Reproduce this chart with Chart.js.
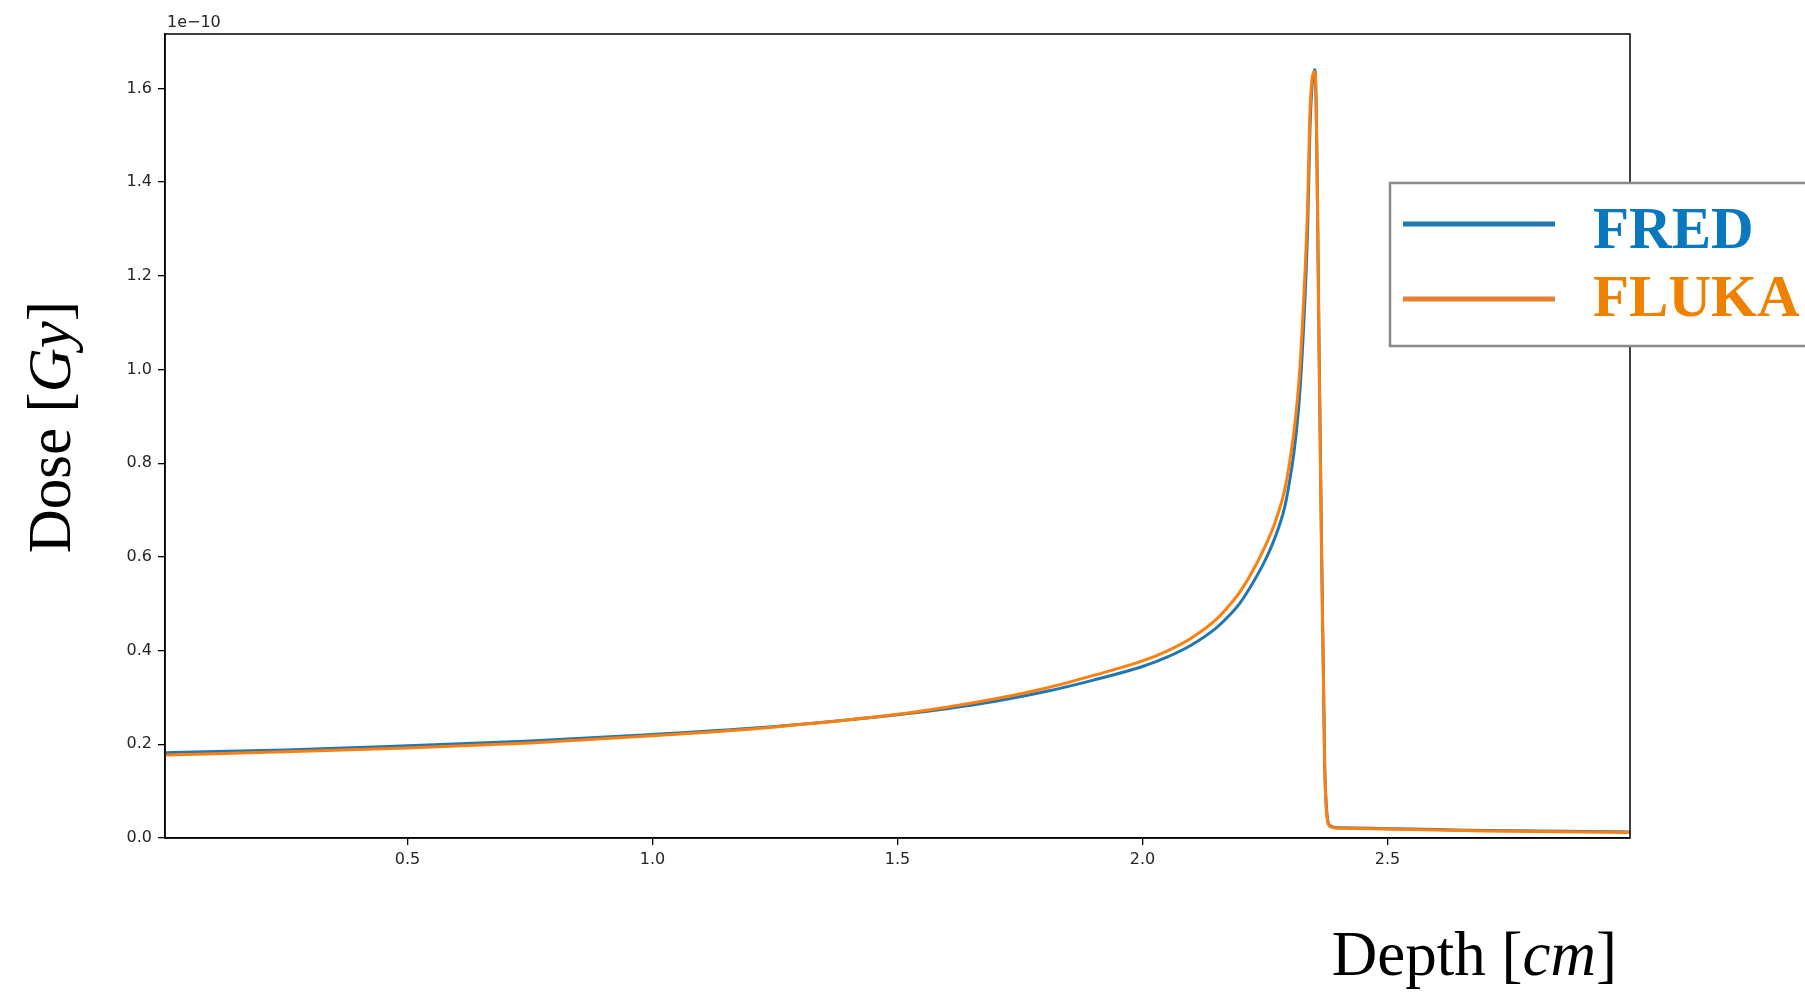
<!DOCTYPE html>
<html>
<head>
<meta charset="utf-8">
<title>Dose vs Depth</title>
<script src="https://cdn.jsdelivr.net/npm/chart.js@4.4.1/dist/chart.umd.min.js"></script>
<style>
    html, body { margin: 0; padding: 0; background: #fff; }
    #wrap { width: 1805px; height: 995px; position: relative; overflow: hidden; }
</style>
</head>
<body>
<div id="wrap">
    <canvas id="doseChart" width="1805" height="995"></canvas>
</div>
<script>
// depth in cm, dose in units of 1e-10 Gy
const depth = [0.005, 0.25, 0.5, 0.75, 1.0, 1.25, 1.5, 1.6, 1.7, 1.8, 1.9, 2.0, 2.05, 2.1, 2.15, 2.18, 2.2,
    2.226, 2.25, 2.27, 2.29, 2.3, 2.31, 2.32, 2.33, 2.337, 2.342, 2.352, 2.362, 2.372, 2.382, 2.4, 2.5, 2.6, 2.7, 2.8, 2.9, 2.995];

const fred = [0.182, 0.188, 0.197, 0.207, 0.221, 0.238, 0.263, 0.276, 0.292, 0.312, 0.337, 0.366, 0.386, 0.412, 0.448, 0.478, 0.503,
    0.546, 0.592, 0.640, 0.705, 0.760, 0.830, 0.935, 1.115, 1.300, 1.520, 1.640, 0.920, 0.150, 0.027, 0.022, 0.020, 0.018, 0.016, 0.015, 0.014, 0.013];

const fluka = [0.177, 0.184, 0.192, 0.203, 0.218, 0.237, 0.264, 0.279, 0.297, 0.319, 0.347, 0.378, 0.399, 0.427, 0.466, 0.500, 0.527,
    0.572, 0.622, 0.672, 0.742, 0.800, 0.875, 0.985, 1.170, 1.347, 1.554, 1.636, 0.900, 0.140, 0.025, 0.021, 0.019, 0.017, 0.015, 0.014, 0.013, 0.012];

const xTicks = [0.5, 1.0, 1.5, 2.0, 2.5];
const yTicks = [0.0, 0.2, 0.4, 0.6, 0.8, 1.0, 1.2, 1.4, 1.6];
const seriesNames = ['FRED', 'FLUKA'];
const offsetLabel = '1e\u221210';

const blue = '#1f77b4';
const orange = '#ff7f0e';

function toPoints(ys) {
    return depth.map((d, i) => ({ x: d, y: ys[i] }));
}

// frame, offset label, axis titles and the legend box
const decorations = {
    id: 'decorations',
    afterDraw(chart) {
        const ctx = chart.ctx;
        const a = chart.chartArea;
        ctx.save();

        ctx.strokeStyle = '#000';
        ctx.lineWidth = 1.5;
        ctx.strokeRect(a.left, a.top, a.right - a.left, a.bottom - a.top);

        ctx.fillStyle = '#262626';
        ctx.font = '16px "DejaVu Sans"';
        ctx.textBaseline = 'alphabetic';
        ctx.textAlign = 'left';
        ctx.fillText(offsetLabel, a.left + 2, 27);

        // x title: Depth [cm], with cm in italics
        ctx.fillStyle = '#000';
        const upright = '63px "Liberation Serif"';
        const italic = 'italic 63px "Liberation Serif"';
        const xParts = [['Depth [', upright], ['cm', italic], [']', upright]];
        let total = 0;
        xParts.forEach(p => { ctx.font = p[1]; total += ctx.measureText(p[0]).width; });
        let x = 1617 - total;
        xParts.forEach(p => {
            ctx.font = p[1];
            ctx.fillText(p[0], x, 975);
            x += ctx.measureText(p[0]).width;
        });

        // y title: Dose [Gy], rotated
        const yUpright = '61px "Liberation Serif"';
        const yItalic = 'italic 61px "Liberation Serif"';
        const yParts = [['Dose [', yUpright], ['Gy', yItalic], [']', yUpright]];
        total = 0;
        yParts.forEach(p => { ctx.font = p[1]; total += ctx.measureText(p[0]).width; });
        ctx.save();
        ctx.translate(70, 427);
        ctx.rotate(-Math.PI / 2);
        let y = -total / 2;
        yParts.forEach(p => {
            ctx.font = p[1];
            ctx.fillText(p[0], y, 0);
            y += ctx.measureText(p[0]).width;
        });
        ctx.restore();

        // legend
        const box = { left: 1390, top: 183, right: 1830, bottom: 346 };
        ctx.fillStyle = '#fff';
        ctx.fillRect(box.left, box.top, box.right - box.left, box.bottom - box.top);
        ctx.strokeStyle = '#8a8a8a';
        ctx.lineWidth = 2.5;
        ctx.strokeRect(box.left, box.top, box.right - box.left, box.bottom - box.top);

        const rows = [
            { name: seriesNames[0], line: '#2077b4', text: '#0a78be', y: 224, base: 248 },
            { name: seriesNames[1], line: '#e5812e', text: '#ef8100', y: 299, base: 316 }
        ];
        ctx.lineWidth = 5;
        ctx.font = 'bold 59px "Liberation Serif"';
        rows.forEach(r => {
            ctx.strokeStyle = r.line;
            ctx.beginPath();
            ctx.moveTo(1403, r.y);
            ctx.lineTo(1555, r.y);
            ctx.stroke();
            ctx.fillStyle = r.text;
            ctx.fillText(r.name, 1593, r.base);
        });

        ctx.restore();
    }
};

const tickFont = { family: 'DejaVu Sans', size: 16 };

new Chart(document.getElementById('doseChart'), {
    type: 'line',
    data: {
        datasets: [
            {
                label: seriesNames[0],
                data: toPoints(fred),
                borderColor: blue,
                borderWidth: 3,
                pointRadius: 0,
                cubicInterpolationMode: 'monotone',
                fill: false,
                order: 1
            },
            {
                label: seriesNames[1],
                data: toPoints(fluka),
                borderColor: orange,
                borderWidth: 3,
                pointRadius: 0,
                cubicInterpolationMode: 'monotone',
                fill: false,
                order: 0
            }
        ]
    },
    options: {
        responsive: false,
        animation: false,
        layout: { padding: { top: 34, right: 175, left: 0, bottom: 0 } },
        plugins: {
            legend: { display: false },
            tooltip: { enabled: false }
        },
        scales: {
            x: {
                type: 'linear',
                min: 0.005,
                max: 2.995,
                afterBuildTicks: (axis) => { axis.ticks = xTicks.map(v => ({ value: v })); },
                afterFit: (scale) => { scale.height = 157; },
                ticks: {
                    callback: (v) => v.toFixed(1),
                    color: '#262626',
                    font: tickFont,
                    padding: 5,
                    maxRotation: 0
                },
                grid: { display: true, drawOnChartArea: false, drawTicks: true, tickLength: 7, color: '#000', lineWidth: 1.3 },
                border: { display: true, color: '#000', width: 1.5 }
            },
            y: {
                type: 'linear',
                min: 0,
                max: 1.716,
                afterBuildTicks: (axis) => { axis.ticks = yTicks.map(v => ({ value: v })); },
                afterFit: (scale) => { scale.width = 165; },
                ticks: {
                    callback: (v) => v.toFixed(1),
                    color: '#262626',
                    font: tickFont,
                    padding: 6
                },
                grid: { display: true, drawOnChartArea: false, drawTicks: true, tickLength: 7, color: '#000', lineWidth: 1.3 },
                border: { display: true, color: '#000', width: 1.5 }
            }
        }
    },
    plugins: [decorations]
});
</script>
</body>
</html>
